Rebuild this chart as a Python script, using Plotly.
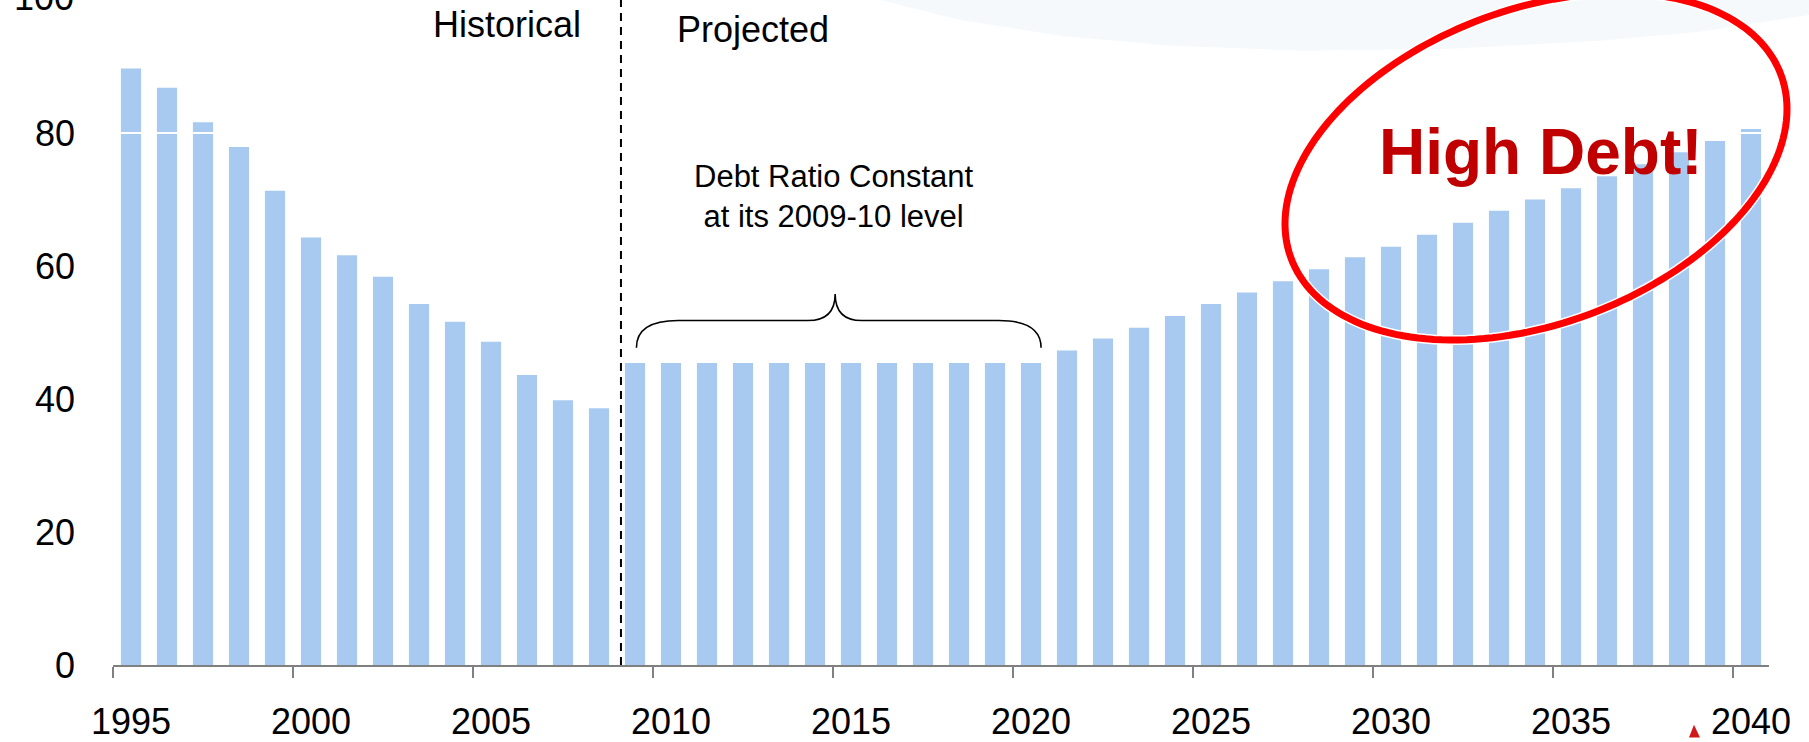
import numpy as np
import plotly.graph_objects as go

# Federal debt held by the public, % of GDP
years = list(range(1995, 2041))
debt = [89.7, 86.8, 81.6, 77.9, 71.3, 64.3, 61.6, 58.4, 54.3, 51.6, 48.6, 43.6, 39.8, 38.6,
        45.4, 45.4, 45.4, 45.4, 45.4, 45.4, 45.4, 45.4, 45.4, 45.4, 45.4, 45.4,
        47.3, 49.1, 50.7, 52.5, 54.3, 56.0, 57.7, 59.5, 61.3, 62.9, 64.7, 66.5, 68.3, 70.0,
        71.7, 73.5, 75.3, 77.1, 78.8, 80.6]
label_years = [1995, 2000, 2005, 2010, 2015, 2020, 2025, 2030, 2035, 2040]
y_ticks = [0, 20, 40, 60, 80]
y_top = 100

FONT = "Arial, 'Liberation Sans', sans-serif"
BAR = "#A8CAF0"
AXIS = "#808080"

W, H = 1809, 742
ML, MR, MT, MB = 113, 40, 0, 73
PW, PH = W - ML - MR, H - MT - MB


def to_paper(px, py):
    """pixel position on the page -> paper coordinates"""
    return (px - ML) / PW, (PH + MT - py) / PH


def path_from(points, close=True):
    pts = [to_paper(x, y) for x, y in points]
    s = "M " + " L ".join(f"{x:.5f},{y:.5f}" for x, y in pts)
    return s + (" Z" if close else "")


fig = go.Figure(go.Bar(x=years, y=debt, width=0.56, marker=dict(color=BAR, line_width=0),
                       hoverinfo="x+y"))

shapes = []

# faint backdrop swoosh in the top right corner
swoosh = [(868, -2), (880, 0), (960, 20), (1060, 36), (1170, 46), (1300, 51), (1450, 49),
          (1600, 41), (1700, 32), (1809, 15), (1809, -2)]
shapes.append(dict(type="path", xref="paper", yref="paper", path=path_from(swoosh),
                   fillcolor="#F6F9FC", line_width=0, layer="below"))

# white rule at the 80 level
shapes.append(dict(type="line", xref="paper", yref="y", x0=0, x1=1, y0=80, y1=80,
                   line=dict(color="white", width=2), layer="above"))

# historical / projected divider
shapes.append(dict(type="line", xref="x", yref="paper", x0=2008.61, x1=2008.61, y0=0, y1=1,
                   line=dict(color="black", width=2, dash="8px,6px"), layer="above"))

# curly brace over the constant-ratio years
brace = ("M 2009.04,47.7 Q 2009.04,51.8 2010.2,51.8 L 2013.8,51.8 "
         "Q 2014.56,51.8 2014.56,55.8 Q 2014.56,51.8 2015.3,51.8 L 2019.1,51.8 "
         "Q 2020.28,51.8 2020.28,47.7")
shapes.append(dict(type="path", xref="x", yref="y", path=brace,
                   line=dict(color="black", width=1.6), layer="above"))

# hand-drawn style ellipse around the late projection years
t = np.linspace(0, 2 * np.pi, 181)
ex = 1536 + 251 * np.cos(t)
ey = 167.5 - 57.77 * np.cos(t) + 164.7 * np.sin(t)
ell = path_from(list(zip(ex, ey)))
shapes.append(dict(type="path", xref="paper", yref="paper", path=ell,
                   line=dict(color="white", width=10), layer="above"))
shapes.append(dict(type="path", xref="paper", yref="paper", path=ell,
                   line=dict(color="#FF0000", width=7), layer="above"))

# small red pointer tip at the bottom edge
shapes.append(dict(type="path", xref="paper", yref="paper",
                   path=path_from([(1694, 729), (1689, 742), (1700, 742)]),
                   fillcolor="#D01818", line_width=0, layer="above"))

annotations = [
    # top tick label of the value axis, sitting on the page edge
    dict(text=str(y_top), x=0, y=y_top, xref="paper", yref="y", showarrow=False,
         xanchor="right", yanchor="middle", xshift=-37, yshift=3,
         font=dict(family=FONT, size=36, color="black")),
    dict(text="Historical", x=2005.44, y=96.3, xref="x", yref="y", showarrow=False,
         font=dict(family=FONT, size=36, color="black"), xanchor="center", yanchor="middle"),
    dict(text="Projected", x=2012.28, y=95.6, xref="x", yref="y", showarrow=False,
         font=dict(family=FONT, size=36, color="black"), xanchor="center", yanchor="middle"),
    dict(text="Debt Ratio Constant<br>at its 2009-10 level", x=2014.54, y=70.4,
         xref="x", yref="y", showarrow=False, align="center",
         font=dict(family=FONT, size=31, color="black"), xanchor="center", yanchor="middle"),
    dict(text="<b>High Debt!</b>", x=2034.17, y=77.2, xref="x", yref="y", showarrow=False,
         font=dict(family=FONT, size=64, color="#C00000"), xanchor="center", yanchor="middle"),
]

fig.update_layout(
    width=W, height=H,
    margin=dict(l=ML, r=MR, t=MT, b=MB, pad=0),
    paper_bgcolor="white", plot_bgcolor="white",
    showlegend=False, bargap=0.44,
    shapes=shapes, annotations=annotations,
    xaxis=dict(
        range=[1994.5, 2040.5], tickmode="array", tickvals=label_years,
        ticktext=[str(y) for y in label_years], ticks="", showgrid=False, zeroline=False,
        showline=True, linecolor=AXIS, linewidth=2,
        tickfont=dict(family=FONT, size=36, color="black"), ticklabelstandoff=24,
        minor=dict(tickmode="array", tickvals=[y - 0.5 for y in label_years],
                   ticks="outside", ticklen=11, tickcolor=AXIS, tickwidth=1.5, showgrid=False),
    ),
    yaxis=dict(
        range=[0, y_top], tickmode="array", tickvals=y_ticks, ticks="", showgrid=False,
        zeroline=False, showline=False,
        tickfont=dict(family=FONT, size=36, color="black"), ticklabelstandoff=37,
    ),
)

fig.write_html("out.html")
